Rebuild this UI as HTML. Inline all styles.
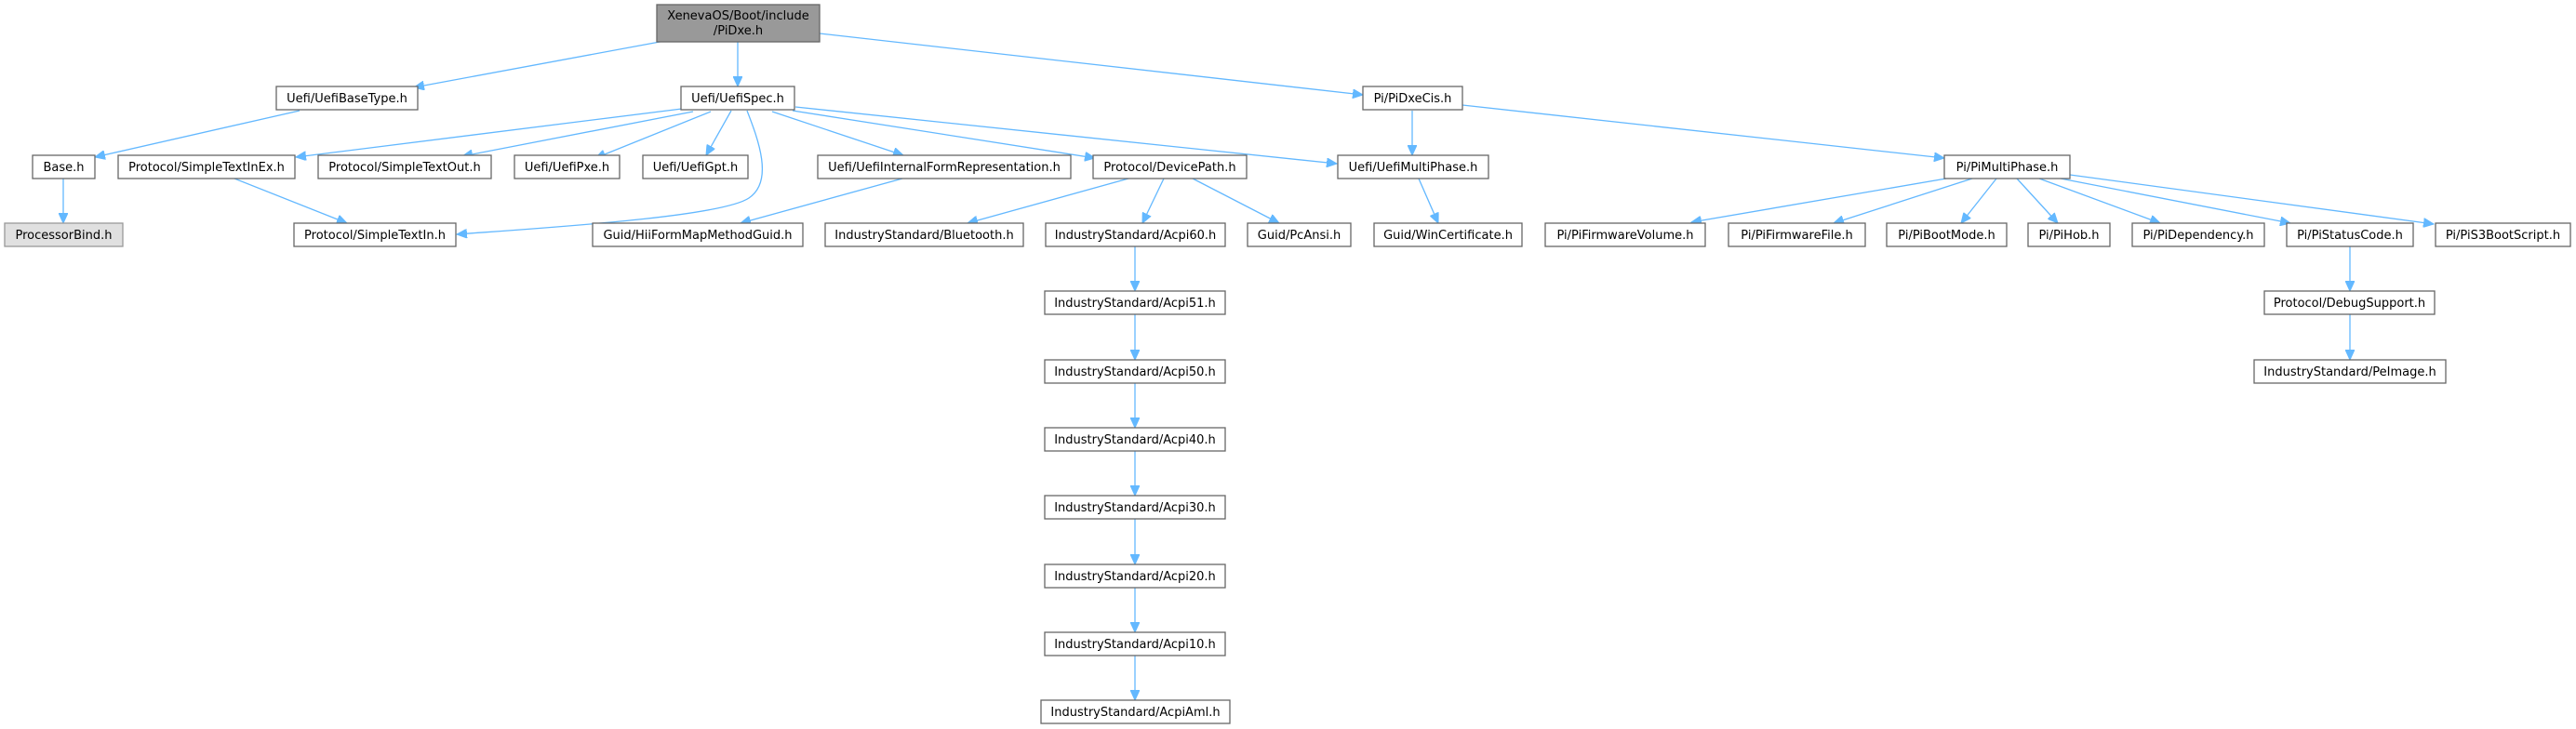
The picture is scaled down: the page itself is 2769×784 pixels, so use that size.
<!DOCTYPE html>
<html><head><meta charset="utf-8"><style>
html,body{margin:0;padding:0;background:#fff;}
svg{display:block;}
text{font-family:"DejaVu Sans","Liberation Sans",sans-serif;font-size:13px;fill:#000;text-anchor:middle;}
.n{fill:#fff;stroke:#666;stroke-width:1.3;}
.e{stroke:#63b8ff;stroke-width:1.3;fill:none;marker-end:url(#a);}
</style></head><body>
<svg width="2769" height="784" viewBox="0 0 2769 784" xmlns="http://www.w3.org/2000/svg">
<defs><marker id="a" markerUnits="userSpaceOnUse" markerWidth="12" markerHeight="10" refX="11" refY="5" orient="auto"><path d="M0,0 L11,5 L0,10 z" fill="#63b8ff" stroke="#63b8ff"/></marker></defs>
<!-- edges -->
<path class="e" d="M720,43 L445,94"/>
<path class="e" d="M793,45 L793,93"/>
<path class="e" d="M881,36 L1465,102"/>
<path class="e" d="M322,119 L102,169"/>
<path class="e" d="M733,117 L318,169"/>
<path class="e" d="M745,120 L497,168"/>
<path class="e" d="M764,120 L640,170"/>
<path class="e" d="M786,119 L759,167"/>
<path class="e" d="M803,119 C815,150 832,195 805,213 C775,233 600,244 491,252"/>
<path class="e" d="M830,120 L971,167"/>
<path class="e" d="M852,119 L1177,170"/>
<path class="e" d="M855,115 L1437,176"/>
<path class="e" d="M1518,119 L1518,167"/>
<path class="e" d="M1572,113 L2090,170"/>
<path class="e" d="M2092,192 L1818,239"/>
<path class="e" d="M2120,192 L1971,240"/>
<path class="e" d="M2146,192 L2108,240"/>
<path class="e" d="M2168,192 L2212,240"/>
<path class="e" d="M2192,192 L2322,240"/>
<path class="e" d="M2215,192 L2462,240"/>
<path class="e" d="M2225,188 L2616,241"/>
<path class="e" d="M2526,265 L2526,313"/>
<path class="e" d="M2526,338 L2526,387"/>
<path class="e" d="M1525,192 L1546,240"/>
<path class="e" d="M1213,192 L1040,240"/>
<path class="e" d="M1251,192 L1228,240"/>
<path class="e" d="M1282,192 L1375,240"/>
<path class="e" d="M970,192 L796,240"/>
<path class="e" d="M252,192 L373,240"/>
<path class="e" d="M68,192 L68,240"/>
<path class="e" d="M1220,265 L1220,313"/>
<path class="e" d="M1220,338 L1220,387"/>
<path class="e" d="M1220,412 L1220,460"/>
<path class="e" d="M1220,485 L1220,533"/>
<path class="e" d="M1220,558 L1220,607"/>
<path class="e" d="M1220,632 L1220,680"/>
<path class="e" d="M1220,705 L1220,753"/>
<!-- root -->
<rect x="706" y="5" width="175" height="40" fill="#999" stroke="#666" stroke-width="1.3"/>
<text x="793.5" y="21">XenevaOS/Boot/include</text>
<text x="793.5" y="37">/PiDxe.h</text>
<!-- row1 -->
<rect class="n" x="297" y="93" width="152" height="25"/><text x="373" y="110">Uefi/UefiBaseType.h</text>
<rect class="n" x="732" y="93" width="122" height="25"/><text x="793" y="110">Uefi/UefiSpec.h</text>
<rect class="n" x="1465" y="93" width="107" height="25"/><text x="1518.5" y="110">Pi/PiDxeCis.h</text>
<!-- row2 -->
<rect class="n" x="35" y="167" width="67" height="25"/><text x="68.5" y="184">Base.h</text>
<rect class="n" x="127" y="167" width="190" height="25"/><text x="222" y="184">Protocol/SimpleTextInEx.h</text>
<rect class="n" x="342" y="167" width="186" height="25"/><text x="435" y="184">Protocol/SimpleTextOut.h</text>
<rect class="n" x="553" y="167" width="113" height="25"/><text x="609.5" y="184">Uefi/UefiPxe.h</text>
<rect class="n" x="691" y="167" width="113" height="25"/><text x="747.5" y="184">Uefi/UefiGpt.h</text>
<rect class="n" x="879" y="167" width="272" height="25"/><text x="1015" y="184">Uefi/UefiInternalFormRepresentation.h</text>
<rect class="n" x="1175" y="167" width="165" height="25"/><text x="1257.5" y="184">Protocol/DevicePath.h</text>
<rect class="n" x="1438" y="167" width="162" height="25"/><text x="1519" y="184">Uefi/UefiMultiPhase.h</text>
<rect class="n" x="2090" y="167" width="135" height="25"/><text x="2157.5" y="184">Pi/PiMultiPhase.h</text>
<!-- row3 -->
<rect x="5" y="240" width="127" height="25" fill="#e0e0e0" stroke="#999" stroke-width="1.3"/><text x="68.5" y="257">ProcessorBind.h</text>
<rect class="n" x="316" y="240" width="174" height="25"/><text x="403" y="257">Protocol/SimpleTextIn.h</text>
<rect class="n" x="637" y="240" width="226" height="25"/><text x="750" y="257">Guid/HiiFormMapMethodGuid.h</text>
<rect class="n" x="887" y="240" width="213" height="25"/><text x="993.5" y="257">IndustryStandard/Bluetooth.h</text>
<rect class="n" x="1124" y="240" width="193" height="25"/><text x="1220.5" y="257">IndustryStandard/Acpi60.h</text>
<rect class="n" x="1341" y="240" width="111" height="25"/><text x="1396.5" y="257">Guid/PcAnsi.h</text>
<rect class="n" x="1477" y="240" width="159" height="25"/><text x="1556.5" y="257">Guid/WinCertificate.h</text>
<rect class="n" x="1661" y="240" width="172" height="25"/><text x="1747" y="257">Pi/PiFirmwareVolume.h</text>
<rect class="n" x="1858" y="240" width="147" height="25"/><text x="1931.5" y="257">Pi/PiFirmwareFile.h</text>
<rect class="n" x="2028" y="240" width="129" height="25"/><text x="2092.5" y="257">Pi/PiBootMode.h</text>
<rect class="n" x="2180" y="240" width="88" height="25"/><text x="2224" y="257">Pi/PiHob.h</text>
<rect class="n" x="2292" y="240" width="142" height="25"/><text x="2363" y="257">Pi/PiDependency.h</text>
<rect class="n" x="2458" y="240" width="136" height="25"/><text x="2526" y="257">Pi/PiStatusCode.h</text>
<rect class="n" x="2618" y="240" width="145" height="25"/><text x="2690.5" y="257">Pi/PiS3BootScript.h</text>
<!-- lower rows -->
<rect class="n" x="2434" y="313" width="183" height="25"/><text x="2525.5" y="330">Protocol/DebugSupport.h</text>
<rect class="n" x="2423" y="387" width="206" height="25"/><text x="2526" y="404">IndustryStandard/PeImage.h</text>
<rect class="n" x="1123" y="313" width="194" height="25"/><text x="1220" y="330">IndustryStandard/Acpi51.h</text>
<rect class="n" x="1123" y="387" width="194" height="25"/><text x="1220" y="404">IndustryStandard/Acpi50.h</text>
<rect class="n" x="1123" y="460" width="194" height="25"/><text x="1220" y="477">IndustryStandard/Acpi40.h</text>
<rect class="n" x="1123" y="533" width="194" height="25"/><text x="1220" y="550">IndustryStandard/Acpi30.h</text>
<rect class="n" x="1123" y="607" width="194" height="25"/><text x="1220" y="624">IndustryStandard/Acpi20.h</text>
<rect class="n" x="1123" y="680" width="194" height="25"/><text x="1220" y="697">IndustryStandard/Acpi10.h</text>
<rect class="n" x="1119" y="753" width="203" height="25"/><text x="1220.5" y="770">IndustryStandard/AcpiAml.h</text>
</svg>
</body></html>
